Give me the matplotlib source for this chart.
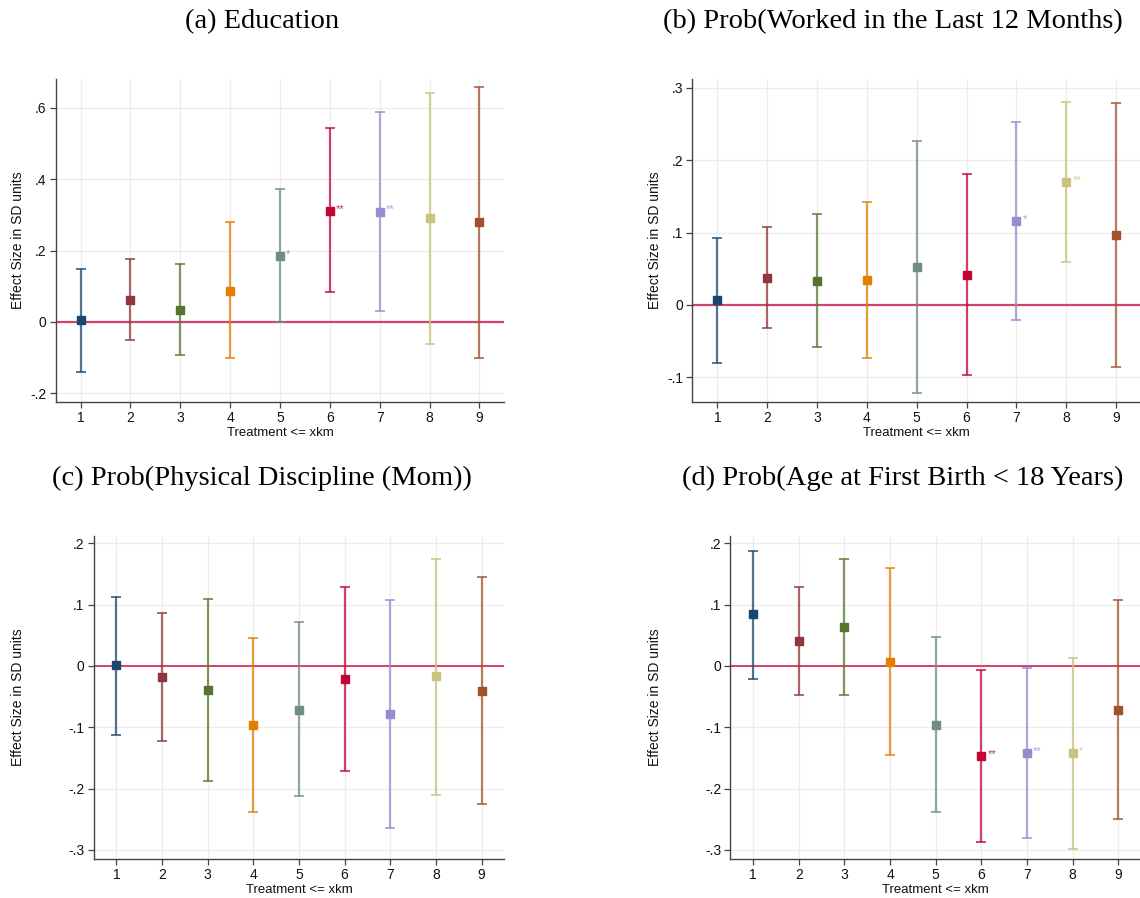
import numpy as np
import matplotlib
matplotlib.use("Agg")
import matplotlib.pyplot as plt

# distance thresholds on the x axis
km = [1, 2, 3, 4, 5, 6, 7, 8, 9]

# (a) Education
edu_est = [0.006, 0.062, 0.034, 0.088, 0.185, 0.311, 0.309, 0.290, 0.279]
edu_lo = [-0.139, -0.050, -0.092, -0.102, -0.001, 0.083, 0.032, -0.061, -0.100]
edu_hi = [0.149, 0.177, 0.163, 0.279, 0.373, 0.542, 0.587, 0.641, 0.659]
edu_stars = ["", "", "", "", "*", "**", "**", "", ""]

# (b) Prob(Worked in the Last 12 Months)
work_est = [0.0065, 0.037, 0.033, 0.034, 0.052, 0.042, 0.116, 0.170, 0.097]
work_lo = [-0.080, -0.032, -0.058, -0.073, -0.122, -0.097, -0.021, 0.060, -0.085]
work_hi = [0.092, 0.107, 0.125, 0.142, 0.226, 0.181, 0.253, 0.280, 0.279]
work_stars = ["", "", "", "", "", "", "*", "**", ""]

# (c) Prob(Physical Discipline (Mom))
disc_est = [0.001, -0.018, -0.040, -0.096, -0.072, -0.022, -0.079, -0.017, -0.041]
disc_lo = [-0.113, -0.122, -0.188, -0.239, -0.213, -0.172, -0.265, -0.210, -0.225]
disc_hi = [0.113, 0.086, 0.110, 0.046, 0.071, 0.128, 0.107, 0.174, 0.145]
disc_stars = ["", "", "", "", "", "", "", "", ""]

# (d) Prob(Age at First Birth < 18 Years)
birth_est = [0.084, 0.040, 0.064, 0.006, -0.096, -0.147, -0.142, -0.142, -0.072]
birth_lo = [-0.021, -0.048, -0.047, -0.146, -0.238, -0.287, -0.280, -0.298, -0.250]
birth_hi = [0.188, 0.129, 0.174, 0.159, 0.048, -0.0065, -0.003, 0.0125, 0.107]
birth_stars = ["", "", "", "", "", "**", "**", "*", ""]

# Stata s2color palette
colors = ["#1a476f", "#90353b", "#55752f", "#e37e00", "#6e8e84",
          "#c10534", "#938dd2", "#cac27e", "#a0522d"]

W, H = 1140, 898
fig = plt.figure(figsize=(W / 100, H / 100), dpi=100)

sans = "Liberation Sans"
serif = "Liberation Serif"


def px_axes(left, right, top, bottom):
    return fig.add_axes([left / W, 1 - bottom / H, (right - left) / W, (bottom - top) / H])


def panel(box, est, lo, hi, stars, ylim, yticks, yticklabels, title, title_xy,
          ylab_x, xlab_y, zero_color, zero_lw):
    left, right, top, bottom = box
    ax = px_axes(left, right, top, bottom)
    ax.set_xlim(0.5, 9.5)
    ax.set_ylim(*ylim)
    ax.set_xticks(km)
    ax.set_yticks(yticks)
    ax.set_yticklabels(yticklabels)
    ax.grid(True, color="#ececec", lw=0.9)
    ax.set_axisbelow(True)
    for s in ["top", "right"]:
        ax.spines[s].set_visible(False)
    for s in ["left", "bottom"]:
        ax.spines[s].set_color("#444444")
        ax.spines[s].set_linewidth(1.0)
    ax.tick_params(direction="out", length=4, width=0.9, color="#444444",
                   labelsize=10, labelcolor="#111111")
    ax.tick_params(axis="x", pad=2.5)
    ax.tick_params(axis="y", pad=2.5)
    for lab in ax.get_xticklabels() + ax.get_yticklabels():
        lab.set_fontfamily(sans)

    ax.axhline(0, color=zero_color, lw=zero_lw, zorder=2)

    for i in range(len(km)):
        ax.errorbar(km[i], est[i], yerr=[[est[i] - lo[i]], [hi[i] - est[i]]],
                    fmt="none", ecolor=colors[i], elinewidth=1.6, capsize=3.5,
                    capthick=1.4, alpha=0.75, zorder=3)
        ax.plot(km[i], est[i], marker="s", ms=5.8, color=colors[i], mec=colors[i],
                ls="none", zorder=4)
        if stars[i]:
            ax.annotate(stars[i], (km[i], est[i]), xytext=(4.5, 1.5),
                        textcoords="offset points", fontsize=8,
                        color=colors[i], fontfamily=sans, va="center", alpha=0.85)

    cx = (left + right) / 2
    fig.text(cx / W, 1 - xlab_y / H, "Treatment <= xkm",
             ha="center", va="center", fontsize=9.5, fontfamily=sans, color="#111111")
    fig.text(ylab_x / W, 1 - ((top + bottom) / 2) / H, "Effect Size in SD units",
             ha="center", va="center", rotation=90, fontsize=10, fontfamily=sans,
             color="#111111")
    fig.text(title_xy[0] / W, 1 - title_xy[1] / H, title, ha="center", va="center",
             fontsize=20.5, fontfamily=serif, color="#000000")
    return ax


panel((55.6, 504.4, 79, 402), edu_est, edu_lo, edu_hi, edu_stars,
      (-0.224, 0.68), [-0.2, 0, 0.2, 0.4, 0.6], ["-.2", "0", ".2", ".4", ".6"],
      "(a) Education", (262, 22), 18, 433, "#d6416a", 1.6)

panel((692.5, 1141, 79, 402), work_est, work_lo, work_hi, work_stars,
      (-0.134, 0.312), [-0.1, 0, 0.1, 0.2, 0.3], ["-.1", "0", ".1", ".2", ".3"],
      "(b) Prob(Worked in the Last 12 Months)", (893, 22), 655, 433, "#d6416a", 1.6)

ticks_cd = [-0.3, -0.2, -0.1, 0, 0.1, 0.2]
labels_cd = ["-.3", "-.2", "-.1", "0", ".1", ".2"]

panel((93.5, 504.4, 536, 859), disc_est, disc_lo, disc_hi, disc_stars,
      (-0.315, 0.212), ticks_cd, labels_cd,
      "(c) Prob(Physical Discipline (Mom))", (262, 478), 18, 890, "#d0103f", 1.1)

panel((730.4, 1141, 536, 859), birth_est, birth_lo, birth_hi, birth_stars,
      (-0.315, 0.212), ticks_cd, labels_cd,
      "(d) Prob(Age at First Birth < 18 Years)", (903, 478), 655, 890, "#d0103f", 1.1)

fig.savefig("out.png", dpi=100)
